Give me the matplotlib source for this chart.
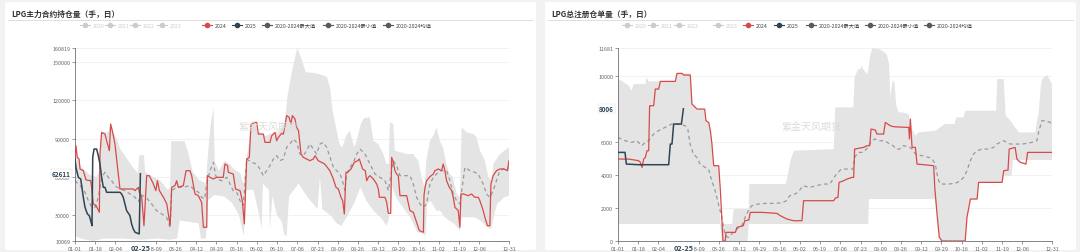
import numpy as np
import matplotlib
matplotlib.use("Agg")
import matplotlib.pyplot as plt
from matplotlib.patches import FancyBboxPatch
from matplotlib.lines import Line2D

plt.rcParams['font.family'] = ['Noto Sans CJK SC', 'DejaVu Sans']

# x values are day of year (2024 calendar, 0 = 01-01, 365 = 12-31)
tick_days = [0, 17, 34, 68, 85, 102, 119, 136, 153, 170, 187, 204, 221, 238, 255, 272, 289, 306, 323, 340, 365]
tick_labels = ['01-01', '01-18', '02-04', '03-09', '03-26', '04-12', '04-29', '05-16', '06-02', '06-19',
               '07-06', '07-23', '08-09', '08-26', '09-12', '09-29', '10-16', '11-02', '11-19', '12-06', '12-31']
last_day = 55
last_label = '02-25'

legend_labels = ['2020', '2021', '2022', '2023', '2024', '2025',
                 '2020-2024最大值', '2020-2024最小值', '2020-2024均值']

# ---------------- LPG主力合约持仓量 ----------------
oi_2024_x = [0, 0.8, 1.9, 3.4, 4.2, 7, 9.3, 13.2, 14, 15.4, 17.7, 20.5, 21, 22.4, 25.2, 26.6, 28.9, 30, 31.7, 33.6,
             35, 37.8, 49, 50.5, 53.3, 54.1, 56.1, 58, 60.3, 62.5, 65.9, 68, 69.3, 71, 74.4, 77.2, 80, 81.3, 84.1,
             85.5, 86.9, 91.1, 93.4, 96.7, 98.1, 100.9, 103.7, 106.5, 108, 110.8, 111.3, 113.5, 116.3, 119, 124.7,
             126.1, 128.3, 128.9, 133.1, 135, 138.8, 140.7, 142.4, 144.4, 146.6, 148, 151.4, 152.8, 154.2, 158.4,
             159.8, 164, 165.4, 168.2, 169.6, 171, 173.8, 175.2, 176.6, 178, 180, 181.6, 182.8, 185, 186.4, 188,
             190.1, 192, 194.8, 197.6, 200.4, 201.9, 204.6, 207.4, 210, 214.3, 216.7, 219.5, 221.5, 223.7, 225.1,
             226.5, 227.9, 229.3, 232.1, 234.9, 237.7, 239.1, 241.9, 244.1, 245.3, 246.7, 248.1, 250.9, 253.7,
             255.1, 256, 260.7, 262.1, 263.5, 265.5, 266.3, 267.7, 269.1, 270.5, 271.9, 273.3, 278.9, 281.7,
             284.5, 285.9, 289.6, 293, 293.5, 294.4, 295.7, 298.5, 301.3, 302.7, 305.5, 308.3, 309.7, 311.1,
             312.5, 314.8, 316.8, 318.1, 319.5, 322.3, 323.7, 324.6, 326.5, 330.7, 333.5, 336.3, 339.1, 340.5,
             343.3, 344.7, 346.9, 348.9, 349.8, 351.7, 354.5, 357.3, 360.1, 362.9, 363.7, 365]
oi_2024_y = [74100, 84500, 75400, 74100, 66300, 65000, 57700, 57200, 52000, 39000, 37700, 32500, 78000, 94900,
             93600, 88400, 80600, 101400, 94900, 85800, 74100, 50700, 50700, 49400, 52000, 48100, 44200, 22000,
             61100, 61100, 54600, 49400, 57200, 49400, 44200, 39000, 22000, 52000, 53300, 57200, 52000, 53300,
             65000, 65000, 61100, 46800, 45500, 40300, 20800, 20800, 61100, 59800, 58500, 59800, 59800, 70200,
             69000, 63700, 62400, 50700, 49400, 41600, 23400, 74100, 75400, 101400, 102700, 102700, 93600, 93600,
             87100, 87100, 92300, 94900, 88400, 91000, 94200, 93600, 100100, 108000, 106700, 101400, 108000,
             105400, 98800, 96200, 78000, 75400, 74100, 72800, 74100, 76700, 72800, 71500, 70200, 65000, 59800,
             52000, 50700, 44200, 41600, 31200, 63700, 63700, 66300, 71500, 72800, 74100, 66300, 65000, 57200,
             59800, 61100, 58500, 54600, 50700, 44200, 44200, 40300, 31700, 31700, 75400, 71500, 65000, 62400,
             61100, 45500, 45500, 33800, 32500, 28600, 18200, 16900, 45500, 52000, 57200, 60300, 62400, 65000,
             66300, 65000, 70200, 65000, 57200, 52000, 49400, 44200, 36400, 33800, 20800, 46800, 46800, 45500,
             46800, 44200, 44200, 41600, 33800, 28600, 22000, 22000, 54600, 61100, 65000, 66300, 66300, 65500,
             65000, 72800]

oi_2025_x = [0, 0.8, 2.8, 4.8, 7, 8.4, 10.4, 12, 13.2, 14.3, 14.9, 16, 18.2, 19.6, 21, 22.4, 23.8, 25.2, 26.6,
             37.8, 39.2, 40.6, 42, 43.4, 46.2, 47.6, 49, 50.5, 54, 55]
oi_2025_y = [74100, 67600, 59800, 58500, 44200, 36400, 31200, 29900, 26000, 22000, 75400, 81900, 81900, 76700,
             70200, 59800, 52000, 52000, 48100, 48100, 46800, 44200, 39000, 33800, 29900, 23400, 19500, 16900,
             15600, 62611]

oi_mean_x = [0, 2.8, 5.6, 8.4, 11.2, 14, 16.8, 19.6, 22.4, 25.2, 28, 30.8, 33.6, 37.8, 42, 46.2, 50.5, 53.3, 56,
             60, 64.5, 68.6, 72.9, 77, 80, 81.3, 85.5, 91, 96.7, 101, 104, 106.5, 109, 110.8, 113.5, 116.5, 118,
             120, 123.4, 127.6, 130.4, 133, 136, 138.8, 141.6, 144.4, 148.5, 152.7, 155.5, 158.4, 161.1, 164,
             166.8, 169.6, 172.4, 175.2, 178, 180.8, 183.6, 186.4, 189.2, 192, 194.8, 197.6, 200.4, 203.2, 206,
             208.9, 211.7, 214.5, 217.3, 220.1, 222.9, 225.7, 227, 228.5, 231.3, 234.1, 236.9, 239.7, 243.9,
             248.1, 252.3, 256.5, 260.7, 263.5, 267.7, 270.5, 273.3, 281.7, 284.5, 287.3, 290.1, 292.9, 295.7,
             298.5, 301.3, 306.9, 312.5, 315.3, 318.1, 320.9, 323.7, 327.9, 332.1, 336.3, 339.1, 343.3, 346.1,
             348.9, 351.7, 354.5, 357.3, 362.9, 365]
oi_mean_y = [57200, 54600, 52000, 48100, 41600, 36400, 36400, 44200, 59800, 63700, 59800, 57200, 53300, 50700,
             49400, 46800, 44200, 41000, 46000, 44000, 39000, 33800, 31200, 28600, 20800, 49400, 52000, 52000,
             53300, 49400, 48100, 44200, 42900, 54600, 65000, 71500, 62000, 58000, 57200, 59800, 54600, 49400,
             48100, 41600, 37700, 74100, 71500, 70200, 66300, 61100, 65000, 69000, 74100, 76700, 72800, 74100,
             83200, 85800, 89700, 87100, 78000, 76700, 80600, 85800, 81900, 78000, 85800, 87100, 83200, 75400,
             67600, 65000, 62400, 54600, 49400, 62400, 67600, 71500, 78000, 81900, 78000, 70200, 62400, 59800,
             57200, 49400, 72800, 68900, 61100, 61100, 54600, 44200, 39000, 36400, 39000, 54600, 59800, 65000,
             65000, 57200, 46800, 41600, 39000, 67600, 65000, 63700, 62400, 54600, 46800, 44200, 49400, 57200,
             65000, 67600, 67000]

oi_max_x = [0, 1, 2, 5, 12, 18, 20.5, 22, 28, 30, 32, 35, 38, 44, 50, 53, 54, 58, 59, 66, 72, 78, 80, 81, 92,
            95, 99, 104, 110, 112, 114, 116.5, 117.5, 121, 126, 130, 134, 139, 141.6, 144.4, 146.6, 148, 151.4,
            154, 160, 165, 170, 174, 176.6, 179, 183, 185.5, 187, 189, 191, 194, 203, 210, 212, 214.5, 216.7,
            219.5, 222.3, 225, 228, 231, 235, 237.6, 240.4, 243, 248, 251, 255, 259.3, 262, 263.8, 264.9, 267.7,
            269, 279, 284.5, 288.7, 291.5, 294, 295.5, 298.5, 301.4, 304, 306.8, 309.5, 312.4, 315, 318, 321,
            323.8, 325.2, 329.4, 335, 337.8, 340.6, 344.8, 347.6, 350.4, 351.8, 357.4, 363, 365]
oi_max_y = [76000, 84500, 76000, 68000, 62000, 60000, 65000, 95000, 95000, 101400, 95000, 90000, 82000, 74000,
            66000, 63000, 77000, 77000, 64000, 60000, 57000, 50000, 52000, 88000, 88000, 80000, 64000, 58000,
            55000, 80000, 100000, 114000, 72000, 65000, 72800, 70000, 66000, 63000, 54600, 74100, 88000, 101400,
            103000, 96000, 92000, 94000, 95000, 98000, 105000, 125000, 145000, 155000, 160819, 156000, 150900,
            142000, 141000, 139000, 137900, 130000, 111800, 98800, 85800, 83200, 92300, 96200, 83200, 91000,
            101400, 106000, 106700, 88400, 85800, 78000, 70200, 70200, 102800, 101400, 80600, 78000, 78000,
            72800, 59800, 52000, 72800, 88400, 92300, 98800, 88400, 83200, 70200, 62400, 59800, 46800, 44200,
            98800, 94900, 93600, 91000, 80600, 72800, 59800, 57200, 70200, 78000, 81900, 83200]

oi_min_x = [0, 5, 12, 15, 20, 24, 40, 55, 70, 80, 86, 88, 104, 106, 110, 112, 117, 125, 132, 138, 142, 144, 150,
            155, 157, 158, 163, 164, 166, 170, 174, 176, 178, 180, 188, 195, 204, 206, 208, 215, 220, 224, 228,
            235, 240, 245, 251, 257, 262, 264, 266, 270, 276, 282, 288, 293, 295, 296, 299, 304, 307, 311, 315,
            319, 323.8, 325, 336, 341, 347, 350, 352, 355, 358, 361, 365]
oi_min_y = [14000, 12000, 10500, 10069, 11000, 12000, 12000, 11000, 12000, 11000, 12000, 26000, 24000, 12000,
            12000, 42000, 46000, 45000, 40000, 30000, 14000, 50000, 50000, 30000, 20000, 55000, 50000, 20000,
            45000, 30000, 25000, 15000, 14000, 45000, 55000, 45000, 35000, 60000, 35000, 30000, 24000, 22000,
            28000, 40000, 52000, 41600, 33800, 28600, 22000, 27000, 55000, 44000, 36000, 28600, 17000, 15600,
            14000, 39000, 41600, 33800, 33800, 28600, 26000, 23400, 18200, 28600, 28600, 26000, 20800, 19500,
            28600, 39000, 41600, 44200, 45500]

# ---------------- LPG总注册仓单量 ----------------
wr_2024_x = [0, 9, 17.4, 18.8, 20.2, 21.6, 23, 24.4, 25.8, 26.6, 30, 31.4, 34.2, 35.6, 48.2, 49.6, 53.8, 55.2,
             60.8, 62.2, 63.6, 66.5, 72.9, 74, 76.3, 77.7, 79, 80.5, 84.7, 86.1, 88.3, 90.2, 90.8, 98.7, 100.1,
             105.3, 106.7, 110, 111.3, 121, 133.7, 136.5, 142.1, 147.7, 154.7, 156.1, 181.4, 182.8, 185, 185.9,
             189.8, 192.6, 196.8, 198.2, 199, 206.6, 209.4, 211.7, 212.8, 216.4, 217.8, 223.4, 224.8, 229,
             231.8, 243, 244.5, 245.1, 245.9, 247.3, 250.1, 251.5, 265.5, 266.4, 268.3, 270.2, 272.5, 292,
             293.5, 296.4, 302, 303.3, 323, 324.4, 328, 329, 334, 335.5, 338.4, 343.1, 344.5, 365]
wr_2024_y = [4960, 4960, 4860, 4760, 4455, 4960, 5061, 5464, 5464, 8187, 8187, 9196, 9196, 9659, 9659, 10144,
             10144, 10043, 10043, 8288, 8187, 7985, 7985, 7279, 7178, 6674, 5868, 4556, 4556, 3044, 0, 0, 523,
             523, 825, 926, 1228, 1269, 1733, 1733, 1672, 1531, 1329, 1228, 1228, 2439, 2439, 2600, 2640, 3548,
             3649, 3750, 3850, 3850, 5565, 5666, 5767, 5767, 6775, 6715, 6473, 6473, 7178, 6977, 6916, 6876,
             6876, 6170, 7380, 5666, 5666, 4657, 4556, 3245, 1632, 220, 0, 0, 1430, 2539, 2539, 3548, 3548, 4254,
             4294, 5565, 5666, 4960, 4758, 4657, 5363, 5363]

wr_2025_x = [0, 5.9, 7, 17.4, 42.6, 44, 45.4, 46.8, 53.3, 55]
wr_2025_y = [5363, 5363, 4657, 4617, 4617, 5868, 5868, 7078, 7078, 8006]

wr_mean_x = [0, 6, 11.6, 15.8, 20, 22.8, 25.7, 30, 34, 39.6, 45.2, 50.8, 56.4, 58.7, 60.6, 63.4, 66.3, 69.1,
             73.3, 76.1, 78.9, 81.7, 84.5, 87.3, 90.1, 92.9, 95.7, 99.9, 104.1, 106.9, 109.7, 112.5, 118.1,
             124.7, 133.1, 138.8, 141.6, 144.4, 148.6, 151.4, 155.6, 161.2, 166.8, 172.5, 178.1, 183.7, 187.9,
             193.5, 197.7, 199.1, 201.9, 206.1, 210.3, 213.1, 215.9, 220.1, 224.3, 228.5, 231.3, 234.1, 236.9,
             239.7, 244.5, 247.3, 250.1, 255.7, 261.3, 264.1, 266.9, 268.3, 269.7, 271.1, 278.1, 283.7, 288,
             290.7, 293.5, 296.3, 299.1, 301.9, 306.1, 311.7, 315.9, 318.7, 321.5, 324.3, 327.1, 329.9, 334.1,
             339.7, 343.9, 348.1, 352.3, 353.7, 356.5, 359.3, 363.5, 365]
wr_mean_y = [6271, 6069, 5968, 6069, 5767, 5968, 6069, 6473, 6674, 6876, 7078, 7078, 6977, 6775, 5868, 5262,
             5061, 4657, 4455, 4355, 3649, 3044, 2237, 1430, 321, 220, 422, 724, 926, 1430, 1834, 2136, 2237,
             2277, 2277, 2338, 2439, 2741, 2842, 2943, 3346, 3245, 3346, 3447, 3447, 4052, 4355, 4355, 4355,
             5061, 5363, 5363, 5666, 6069, 6170, 6069, 6069, 5868, 5767, 5565, 5565, 5767, 5706, 5565, 5262,
             5162, 5061, 4960, 4657, 4052, 3649, 3447, 3447, 3488, 3649, 3850, 4254, 4859, 5262, 5464, 5565,
             5565, 5666, 5868, 5968, 6069, 5968, 5868, 5868, 5868, 5908, 5968, 6069, 6574, 7279, 7279, 7178,
             7078]

wr_max_x = [0, 3, 9, 11.6, 13, 23, 24, 25.8, 48.2, 49.6, 60.8, 62.2, 66.5, 72.9, 74, 76.3, 77.7, 79, 80.5, 84.7,
            86, 96, 97.3, 109.9, 110.5, 141, 143, 145, 148, 181.4, 182.8, 198, 199, 202, 204, 205, 207, 210, 212,
            214, 220, 223, 226, 228, 229, 231, 232.5, 234, 236, 239, 244.5, 247, 250, 253, 266.9, 275, 283,
            284.5, 290.7, 292, 318, 319, 324.4, 326, 329, 337, 351, 352.5, 354, 355.5, 356.6, 360.8, 363.5, 365]
wr_max_y = [9801, 9700, 9397, 9095, 9498, 9498, 9902, 9659, 9659, 10144, 10144, 8288, 7985, 7985, 7279, 7178,
            6674, 5868, 4556, 4556, 1027, 1027, 1934, 1934, 3447, 3447, 4052, 4859, 5464, 5565, 8086, 8086, 9902,
            10406, 10406, 10607, 10305, 10100, 11200, 11681, 11600, 11480, 11300, 10700, 8691, 9700, 9600, 8200,
            7784, 7784, 7683, 6778, 6372, 6574, 6674, 7078, 7078, 7481, 7481, 7884, 7884, 9801, 9801, 7582, 7380,
            6574, 6574, 7279, 7884, 9298, 9801, 10043, 9700, 9498]

wr_min_x = [0, 86, 87, 109, 110, 210.5, 211, 266.4, 268.3, 270.2, 272.5, 292, 293.5, 296.4, 302, 303.3, 323,
            324, 331, 332, 365]
wr_min_y = [1027, 1027, 0, 0, 1027, 1027, 2539, 2539, 1632, 220, 0, 0, 1430, 2539, 2539, 3548, 3548, 3951,
            3951, 4900, 4900]

C_RED = '#d84a4a'
C_DARK = '#2f4554'
C_BAND = '#e4e4e4'
C_MEAN = '#9a9a9a'
C_AXIS = '#6e7079'

W, H = 1080, 253
fig = plt.figure(figsize=(W / 100, H / 100), dpi=100)
fig.patch.set_facecolor('#f2f2f2')


def fx(px):
    return px / W


def fy(py):
    return 1 - py / H


def draw_panel(x0, x1, title, leg_x, ax_x0, ylim, yticks, band, mean, s2024, s2025, last_val, wm_x):
    fig.add_artist(FancyBboxPatch((fx(x0), fy(251)), fx(x1 - x0), 248 / H,
                                  boxstyle='round,pad=0,rounding_size=0.004', transform=fig.transFigure,
                                  facecolor='white', edgecolor='none', zorder=0))
    fig.text(fx(x0 + 6), fy(14), title, fontsize=5.6, fontweight='bold', color='#333333', va='center')
    fig.add_artist(Line2D([fx(x0 + 3), fx(x1 - 3)], [fy(21), fy(21)], transform=fig.transFigure,
                          color='#d9d9d9', lw=0.6))

    # legend: short line with a dot, then the label
    colors = ['#cccccc'] * 4 + [C_RED, C_DARK, '#5a5a5a', '#5a5a5a', '#5a5a5a']
    for lx, lab, c in zip(leg_x, legend_labels, colors):
        fig.add_artist(Line2D([fx(lx - 5), fx(lx + 5)], [fy(26), fy(26)], transform=fig.transFigure,
                              color=c, lw=0.8))
        fig.add_artist(Line2D([fx(lx)], [fy(26)], transform=fig.transFigure, color=c, marker='o', ms=3.0,
                              lw=0))
        tc = '#cccccc' if lab in ('2020', '2021', '2022', '2023') else '#444444'
        fig.text(fx(lx + 7.5), fy(26), lab, fontsize=3.8, color=tc, va='center', ha='left')

    ax = fig.add_axes([fx(ax_x0), fy(242), fx(434), (242 - 49) / H])
    ax.set_xlim(0, 365)
    ax.set_ylim(*ylim)
    ux, uy, lx_, ly = band
    ax.fill(np.concatenate([ux, lx_[::-1]]), np.concatenate([uy, ly[::-1]]), color=C_BAND, lw=0, zorder=1)
    ax.plot(mean[0], mean[1], color=C_MEAN, lw=0.9, ls=(0, (3, 2.5)), zorder=2)
    ax.plot(s2024[0], s2024[1], color=C_RED, lw=0.9, zorder=3)
    ax.plot(s2025[0], s2025[1], color=C_DARK, lw=1.1, zorder=4)

    ax.set_yticks(yticks)
    ax.set_yticklabels([str(v) for v in yticks])
    ax.set_xticks(tick_days)
    ax.set_xticklabels(tick_labels)
    ax.tick_params(axis='both', labelsize=3.9, colors=C_AXIS, length=2, width=0.5, pad=1.5)
    ax.tick_params(axis='both', labelcolor='#666666')
    ax.grid(axis='y', color='#ececec', lw=0.5, zorder=0)
    ax.set_axisbelow(True)
    for s in ('top', 'right'):
        ax.spines[s].set_visible(False)
    for s in ('left', 'bottom'):
        ax.spines[s].set_color(C_AXIS)
        ax.spines[s].set_linewidth(0.6)
    ax.patch.set_alpha(0)

    # highlighted latest values on the axes
    ax.text(-3.5, last_val, str(last_val), fontsize=4.6, fontweight='bold', color=C_DARK, ha='right',
            va='center', bbox=dict(boxstyle='square,pad=0.15', fc='white', ec='#dddddd', lw=0.3), zorder=6,
            clip_on=False)
    ax.text(last_day, ylim[0] - (ylim[1] - ylim[0]) * 0.016, last_label, fontsize=5.2, fontweight='bold',
            color=C_DARK, ha='center', va='top',
            bbox=dict(boxstyle='square,pad=0.1', fc='white', ec='none'), zorder=6, clip_on=False)

    ax.text(wm_x, 0.595, '紫金天风期货', transform=ax.transAxes, fontsize=7.2, color='#dcdcdc', ha='center',
            va='center', zorder=5)
    return ax


draw_panel(5, 536, 'LPG主力合约持仓量（手，日）',
           [85, 110, 135, 162, 207, 237, 267, 328, 388], 75, (10069, 160819),
           [10069, 30000, 60000, 90000, 120000, 150000, 160819],
           (np.array(oi_max_x), np.array(oi_max_y), np.array(oi_min_x), np.array(oi_min_y)),
           (oi_mean_x, oi_mean_y), (oi_2024_x, oi_2024_y), (oi_2025_x, oi_2025_y), 62611, 0.445)

draw_panel(545, 1076, 'LPG总注册仓单量（手，日）',
           [627, 653, 679, 718, 748, 779, 811, 870, 929], 618, (0, 11681),
           [0, 2000, 4000, 6000, 10000, 11681],
           (np.array(wr_max_x), np.array(wr_max_y), np.array(wr_min_x), np.array(wr_min_y)),
           (wr_mean_x, wr_mean_y), (wr_2024_x, wr_2024_y), (wr_2025_x, wr_2025_y), 8006, 0.445)

fig.savefig('out.png', dpi=100, facecolor=fig.get_facecolor())
